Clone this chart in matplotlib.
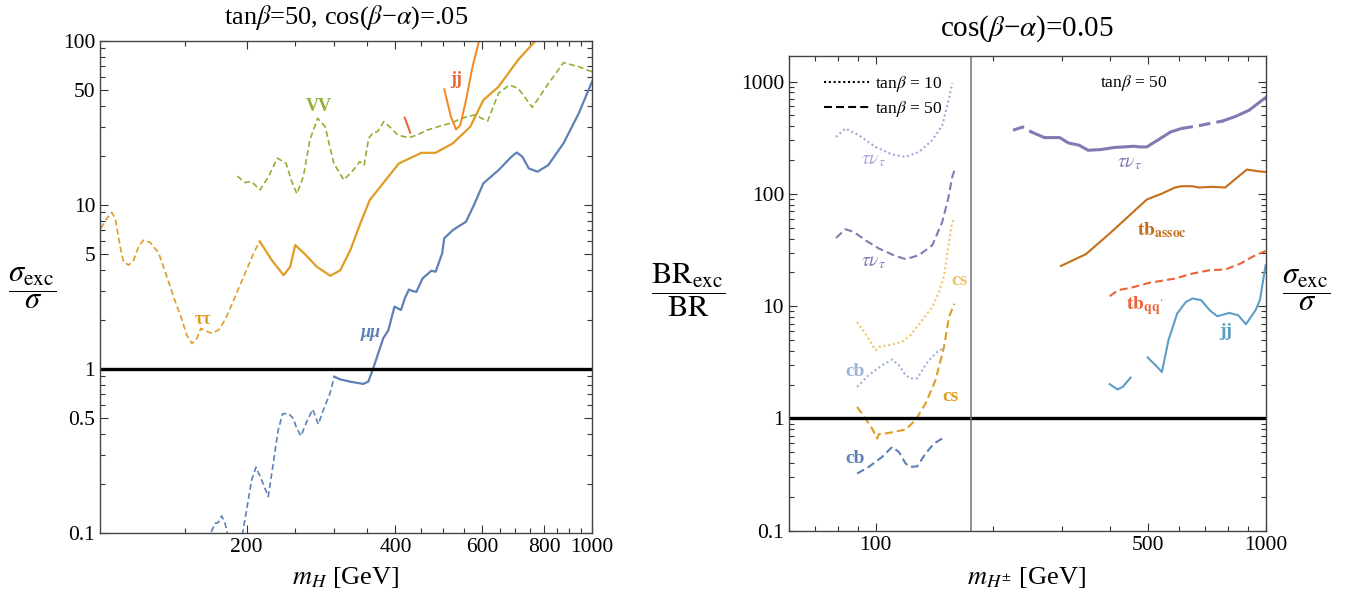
import numpy as np
import matplotlib.pyplot as plt
from matplotlib.lines import Line2D
from matplotlib.ticker import FixedLocator, FixedFormatter, NullFormatter

plt.rcParams['font.family'] = ['Liberation Serif', 'DejaVu Serif']
plt.rcParams['mathtext.fontset'] = 'stix'

# --- colours (Mathematica default palette) ---
c_blue = '#5E81B5'
c_orange = '#E19C24'
c_green = '#8FB032'
c_red = '#EB6235'
c_jj = '#F5871F'
c_purple = '#8778B3'
c_brown = '#C56E1A'
c_lblue = '#5D9EC7'
c_purple_l = '#ADA4D6'
c_orange_l = '#F2C46A'
c_blue_l = '#9DB4DA'

# --- LEFT PANEL DATA: neutral H, sigma_exc / sigma ---
tautau_x = [101.4, 104.3, 106.7, 108.4, 110.9, 112.7, 115.4, 118.1, 120.9, 123.7, 127.6, 132.7,
            136.9, 142.3, 147.9, 151.4, 155.0, 158.7, 161.6, 164.9, 170.1, 175.5, 181.0, 188.3,
            197.2, 206.7, 212.5]
tautau_y = [7.2, 8.3, 9.0, 8.3, 5.6, 4.5, 4.3, 4.6, 5.6, 6.1, 5.9, 5.1,
            3.9, 2.75, 2.0, 1.6, 1.43, 1.54, 1.77, 1.71, 1.65, 1.73, 2.0, 2.63,
            3.65, 5.1, 6.0]

tt_sol_x = [212.5, 225.0, 237.6, 245.0, 250.8, 260.9, 277.5, 295.3, 309.4, 324.2, 339.6, 354.8,
            406.4, 451.5, 482.5, 523.2, 567.0, 602.6, 646.7, 708.4, 767.7]
tt_sol_y = [6.0, 4.6, 3.73, 4.2, 5.7, 5.1, 4.2, 3.7, 4.0, 5.3, 7.7, 10.7,
            17.9, 20.8, 20.8, 23.8, 30.0, 43.6, 52.6, 76.6, 100.0]

vv_x = [191.6, 198.4, 204.4, 212.9, 221.5, 230.8, 240.3, 246.2, 252.7, 260.5, 268.5, 278.4,
        288.3, 300.2, 314.4, 328.7, 338.8, 345.7, 353.2, 360.3, 368.3, 378.7, 389.5, 402.9,
        415.7, 428.7, 442.3, 463.4, 493.2, 520.8, 544.5, 578.6, 614.9, 646.7, 680.0, 708.4,
        757.1, 807.8, 875.7, 940.0, 1000.0]
vv_y = [15.0, 13.7, 13.9, 12.35, 14.9, 19.3, 17.95, 14.2, 11.7, 14.9, 24.9, 33.8,
        30.0, 17.95, 14.2, 16.3, 18.4, 17.5, 25.5, 27.6, 28.0, 32.2, 30.0, 27.0,
        26.1, 25.9, 26.7, 28.6, 30.3, 31.7, 33.8, 35.4, 32.5, 48.0, 53.9, 51.5,
        39.4, 52.6, 73.8, 69.7, 64.9]

jj_x = [502.3, 517.9, 530.6, 541.3, 555.9, 573.0, 590.7]
jj_y = [50.8, 34.6, 28.9, 30.7, 43.7, 69.7, 100.0]
jj_bit_x = [417.7, 428.7]
jj_bit_y = [34.1, 27.6]

mumu_d_x = [167.0, 169.3, 172.5, 175.2, 178.0, 180.8, 182.7, 189.0, 196.3, 200.0, 204.7, 208.9,
            214.5, 221.2, 226.4, 231.7, 236.5, 242.8, 248.5, 252.5, 257.6, 264.6, 272.1, 277.2,
            279.3, 285.9, 294.9, 300.9]
mumu_d_y = [0.09, 0.1, 0.1146, 0.1156, 0.127, 0.115, 0.1, 0.085, 0.1, 0.1386, 0.2105, 0.252,
            0.21, 0.1665, 0.266, 0.425, 0.532, 0.537, 0.50, 0.435, 0.39, 0.477, 0.568, 0.489,
            0.46, 0.562, 0.711, 0.898]
mumu_s_x = [300.9, 309.0, 323.7, 344.4, 352.5, 359.8, 369.3, 378.0, 387.0, 398.3, 410.6, 418.0,
            426.0, 432.0, 441.0, 454.1, 472.9, 482.5, 497.4, 502.3, 523.2, 555.9, 578.6, 602.6,
            646.7, 687.1, 704.1, 722.6, 744.9, 775.7, 815.6, 875.7, 940.0, 1000.0]
mumu_s_y = [0.898, 0.865, 0.837, 0.811, 0.837, 0.986, 1.25, 1.54, 1.72, 2.40, 2.29, 2.7,
            3.05, 3.0, 2.95, 3.57, 3.97, 3.92, 5.07, 6.27, 7.04, 7.91, 10.2, 13.55,
            16.3, 19.7, 20.9, 19.7, 16.7, 15.96, 17.5, 23.8, 36.2, 56.5]

# --- RIGHT PANEL DATA: charged H, BR_exc / BR and sigma_exc / sigma ---
taunu10_x = [79.2, 83.7, 90.6, 100.0, 110.3, 119.4, 129.2, 139.8, 148.3, 154.3, 157.3]
taunu10_y = [321, 381.6, 332.4, 261.6, 223.9, 213.2, 236.1, 300.2, 408.3, 705.6, 970]
taunu50_x = [79.2, 83.7, 88.0, 94.2, 102.0, 111.4, 119.4, 129.2, 139.8, 148.3, 153.6, 157.3, 159.9]
taunu50_y = [40.5, 48.4, 45.8, 38.6, 32.6, 28.4, 26.2, 28.4, 34.8, 56.2, 90.8, 141.4, 168]

cs10_x = [89.7, 94.2, 100.0, 102.0, 108.2, 117.0, 122.9, 131.7, 139.8, 145.5, 149.8, 154.3, 156.7, 159.2]
cs10_y = [7.23, 5.70, 4.05, 4.33, 4.49, 4.80, 5.51, 7.49, 9.84, 13.4, 18.5, 37.3, 52.5, 61.5]
cs50_x = [89.7, 94.2, 98.0, 101.0, 102.0, 108.2, 119.4, 126.6, 134.4, 142.5, 149.8, 154.3, 159.2]
cs50_y = [1.266, 0.998, 0.813, 0.662, 0.724, 0.743, 0.796, 0.964, 1.36, 2.19, 4.33, 8.02, 10.5]

cb10_x = [89.7, 96.1, 104.0, 110.3, 114.8, 119.4, 122.9, 127.9, 131.7, 137.1, 144.0, 150.7]
cb10_y = [1.908, 2.43, 2.98, 3.34, 2.98, 2.43, 2.27, 2.27, 2.69, 3.30, 3.91, 4.33]
cb50_x = [89.7, 96.1, 104.0, 110.3, 114.8, 119.4, 122.9, 127.9, 134.4, 141.2, 148.3]
cb50_y = [0.323, 0.370, 0.454, 0.557, 0.503, 0.397, 0.370, 0.374, 0.487, 0.598, 0.662]

taunu_hi_x = [225.2, 238.3, 250.9, 270.9, 296.5, 312.2, 332.9, 350.5, 378.5, 408.8, 459.1, 477.1,
              495.8, 528.5, 571.0, 608.5, 683.6, 777.2, 839.4, 907.1, 1000.0]
taunu_hi_y = [368.6, 394, 355.9, 317, 317, 284, 270.9, 244.5, 248, 258.5, 265.3, 261.6,
              261.6, 300.2, 355.9, 381.6, 408.3, 445.8, 491, 555, 720]

tbassoc_x = [298.8, 346.1, 398.3, 453.2, 495.8, 542.3, 585.7, 608.5, 649.3, 674.7, 728.6, 787.6,
             839.4, 895.4, 955.0, 1000.0]
tbassoc_y = [22.8, 29.0, 44.3, 66.8, 88.9, 100.6, 113.8, 116.9, 116.9, 113.8, 115.5, 113.8,
             136.8, 164.6, 158.9, 156.7]

tbqq_x = [398.3, 419.4, 453.2, 502.2, 585.7, 649.3, 719.0, 787.6, 861.6, 930.4, 1000.0]
tbqq_y = [12.25, 13.9, 14.6, 16.1, 17.6, 19.5, 20.9, 21.2, 23.9, 27.8, 31.0]

jjc1_x = [398.3, 417.4, 430.4, 450.8]
jjc1_y = [2.02, 1.81, 1.91, 2.31]
jjc2_x = [498.4, 522.0, 542.3, 563.6, 593.4, 624.7, 649.3, 683.6, 719.0, 751.7, 807.7, 850.5,
          890.7, 942.5, 966.9, 1000.0]
jjc2_y = [3.49, 2.98, 2.59, 4.97, 8.59, 10.9, 11.7, 11.3, 9.2, 8.13, 8.7, 8.3,
          6.9, 9.2, 11.3, 23.1]

m_top = 176.0

# --- FIGURE ---
fig = plt.figure(figsize=(13.61, 6.0), dpi=100)
ax1 = fig.add_axes([0.0735, 0.1117, 0.3615, 0.82])
ax2 = fig.add_axes([0.5797, 0.1155, 0.3502, 0.7917])

dash_l = (3.5, 2.0)
dash_r = (3.8, 2.0)
dot_r = (1.0, 1.3)

# left panel
ax1.plot(tautau_x, tautau_y, color=c_orange, lw=1.2, dashes=dash_l)
ax1.plot(tt_sol_x, tt_sol_y, color=c_orange, lw=1.6)
ax1.plot(vv_x, vv_y, color=c_green, lw=1.2, dashes=dash_l)
ax1.plot(jj_x, jj_y, color=c_jj, lw=1.4)
ax1.plot(jj_bit_x, jj_bit_y, color=c_red, lw=1.4)
ax1.plot(mumu_d_x, mumu_d_y, color=c_blue, lw=1.2, dashes=dash_l)
ax1.plot(mumu_s_x, mumu_s_y, color=c_blue, lw=1.6)
ax1.axhline(1.0, color='black', lw=2.4)

ax1.text(280, 40, 'VV', color=c_green, fontsize=13, fontweight='bold', ha='center', va='center')
ax1.text(530, 58, 'jj', color=c_red, fontsize=13, fontweight='bold', ha='center', va='center')
ax1.text(357, 1.66, 'μμ', color=c_blue, fontsize=13, fontweight='bold', fontstyle='italic',
         ha='center', va='center')
ax1.text(163, 2.0, 'ττ', color=c_orange, fontsize=13, fontweight='bold', ha='center', va='center')

ax1.set_xscale('log')
ax1.set_yscale('log')
ax1.set_xlim(101, 1000)
ax1.set_ylim(0.1, 100)
ax1.xaxis.set_major_locator(FixedLocator([200, 400, 600, 800, 1000]))
ax1.xaxis.set_major_formatter(FixedFormatter(['200', '400', '600', '800', '1000']))
ax1.xaxis.set_minor_locator(FixedLocator([150, 250, 300, 350, 450, 500, 550, 650, 700, 750,
                                          850, 900, 950]))
ax1.xaxis.set_minor_formatter(NullFormatter())
ax1.yaxis.set_major_locator(FixedLocator([0.1, 0.5, 1, 5, 10, 50, 100]))
ax1.yaxis.set_major_formatter(FixedFormatter(['0.1', '0.5', '1', '5', '10', '50', '100']))
ax1.yaxis.set_minor_locator(FixedLocator([0.2, 0.3, 0.4, 0.6, 0.7, 0.8, 0.9, 2, 3, 4, 6, 7, 8, 9,
                                          20, 30, 40, 60, 70, 80, 90]))
ax1.yaxis.set_minor_formatter(NullFormatter())

# right panel
ax2.plot(taunu10_x, taunu10_y, color=c_purple_l, lw=1.5, dashes=dot_r)
ax2.plot(taunu50_x, taunu50_y, color=c_purple, lw=1.5, dashes=dash_r)
ax2.plot(cs10_x, cs10_y, color=c_orange_l, lw=1.5, dashes=dot_r)
ax2.plot(cs50_x, cs50_y, color=c_orange, lw=1.5, dashes=dash_r)
ax2.plot(cb10_x, cb10_y, color=c_blue_l, lw=1.5, dashes=dot_r)
ax2.plot(cb50_x, cb50_y, color=c_blue, lw=1.5, dashes=dash_r)

ax2.plot(taunu_hi_x[0:3], taunu_hi_y[0:3], color=c_purple, lw=2.2, dashes=dash_r)
ax2.plot(taunu_hi_x[2:16], taunu_hi_y[2:16], color=c_purple, lw=2.2)
ax2.plot(taunu_hi_x[15:18], taunu_hi_y[15:18], color=c_purple, lw=2.2, dashes=dash_r)
ax2.plot(taunu_hi_x[17:], taunu_hi_y[17:], color=c_purple, lw=2.2)
ax2.plot(tbassoc_x, tbassoc_y, color=c_brown, lw=1.5)
ax2.plot(tbqq_x, tbqq_y, color=c_red, lw=1.5, dashes=dash_r)
ax2.plot(jjc1_x, jjc1_y, color=c_lblue, lw=1.5)
ax2.plot(jjc2_x, jjc2_y, color=c_lblue, lw=1.5)

ax2.axhline(1.0, color='black', lw=2.4)
ax2.axvline(m_top, color='#707070', lw=1.1)

lab = dict(fontsize=14, ha='center', va='center')
ax2.text(99, 199, r'$\tau\nu_\tau$', color=c_purple_l, **lab)
ax2.text(99, 24.7, r'$\tau\nu_\tau$', color=c_purple, **lab)
ax2.text(447, 186, r'$\tau\nu_\tau$', color=c_purple, **lab)
ax2.text(164, 17, 'cs', color=c_orange_l, fontweight='bold', **lab)
ax2.text(156, 1.58, 'cs', color=c_orange, fontweight='bold', **lab)
ax2.text(88.8, 2.6, 'cb', color=c_blue_l, fontweight='bold', **lab)
ax2.text(88.8, 0.44, 'cb', color=c_blue, fontweight='bold', **lab)
ax2.text(542, 47.4, r'$\mathbf{tb}_{\mathbf{assoc}}$', color=c_brown, **lab)
ax2.text(489.5, 10.2, r"$\mathbf{tb}_{\mathbf{qq'}}$", color=c_red, **lab)
ax2.text(787.6, 5.89, 'jj', color=c_lblue, fontweight='bold', **lab)
ax2.text(0.724, 0.942, r'tan$\beta$ = 50', transform=ax2.transAxes, fontsize=12.5,
         ha='center', va='center')

handles = [Line2D([], [], color='black', lw=1.5, dashes=dot_r),
           Line2D([], [], color='black', lw=1.5, dashes=dash_r)]
ax2.legend(handles, [r'tan$\beta$ = 10', r'tan$\beta$ = 50'], loc='upper left',
           bbox_to_anchor=(0.04, 0.995), frameon=False, fontsize=12.5, handlelength=2.6,
           handletextpad=0.35, labelspacing=0.3)

ax2.set_xscale('log')
ax2.set_yscale('log')
ax2.set_xlim(60, 1000)
ax2.set_ylim(0.1, 1700)
ax2.xaxis.set_major_locator(FixedLocator([100, 500, 1000]))
ax2.xaxis.set_major_formatter(FixedFormatter(['100', '500', '1000']))
ax2.xaxis.set_minor_locator(FixedLocator([60, 70, 80, 90, 200, 300, 400, 600, 700, 800, 900]))
ax2.xaxis.set_minor_formatter(NullFormatter())
ax2.yaxis.set_major_locator(FixedLocator([0.1, 1, 10, 100, 1000]))
ax2.yaxis.set_major_formatter(FixedFormatter(['0.1', '1', '10', '100', '1000']))
ax2.yaxis.set_minor_locator(FixedLocator([m * 10.0 ** e for e in range(-1, 4) for m in range(2, 10)]))
ax2.yaxis.set_minor_formatter(NullFormatter())

for ax in (ax1, ax2):
    ax.tick_params(which='both', direction='in', top=True, right=True, width=0.8,
                   colors='#333333', labelcolor='black', labelsize=15.5)
    ax.tick_params(which='major', length=6)
    ax.tick_params(which='minor', length=3.5)
    for s in ax.spines.values():
        s.set_color('#444444')
        s.set_linewidth(1.0)

# titles and axis labels
fig.text(0.2542, 0.97, r'tan$\beta$=50, cos($\beta$−$\alpha$)=.05', fontsize=19, ha='center', va='center')
fig.text(0.7546, 0.953, r'cos($\beta$−$\alpha$)=0.05', fontsize=21, ha='center', va='center')
fig.text(0.2542, 0.037, r'$m_H$ [GeV]', fontsize=19, ha='center', va='center')
fig.text(0.7546, 0.037, r'$m_{H^{\pm}}$ [GeV]', fontsize=19, ha='center', va='center')
fig.text(0.0235, 0.52, r'$\dfrac{\sigma_{\mathrm{exc}}}{\sigma}$', fontsize=22, ha='center', va='center')
fig.text(0.5055, 0.517, r'$\dfrac{\mathrm{BR}_{\mathrm{exc}}}{\mathrm{BR}}$', fontsize=22,
         ha='center', va='center')
fig.text(0.9596, 0.517, r'$\dfrac{\sigma_{\mathrm{exc}}}{\sigma}$', fontsize=22, ha='center', va='center')

fig.savefig('out.png', dpi=100)
